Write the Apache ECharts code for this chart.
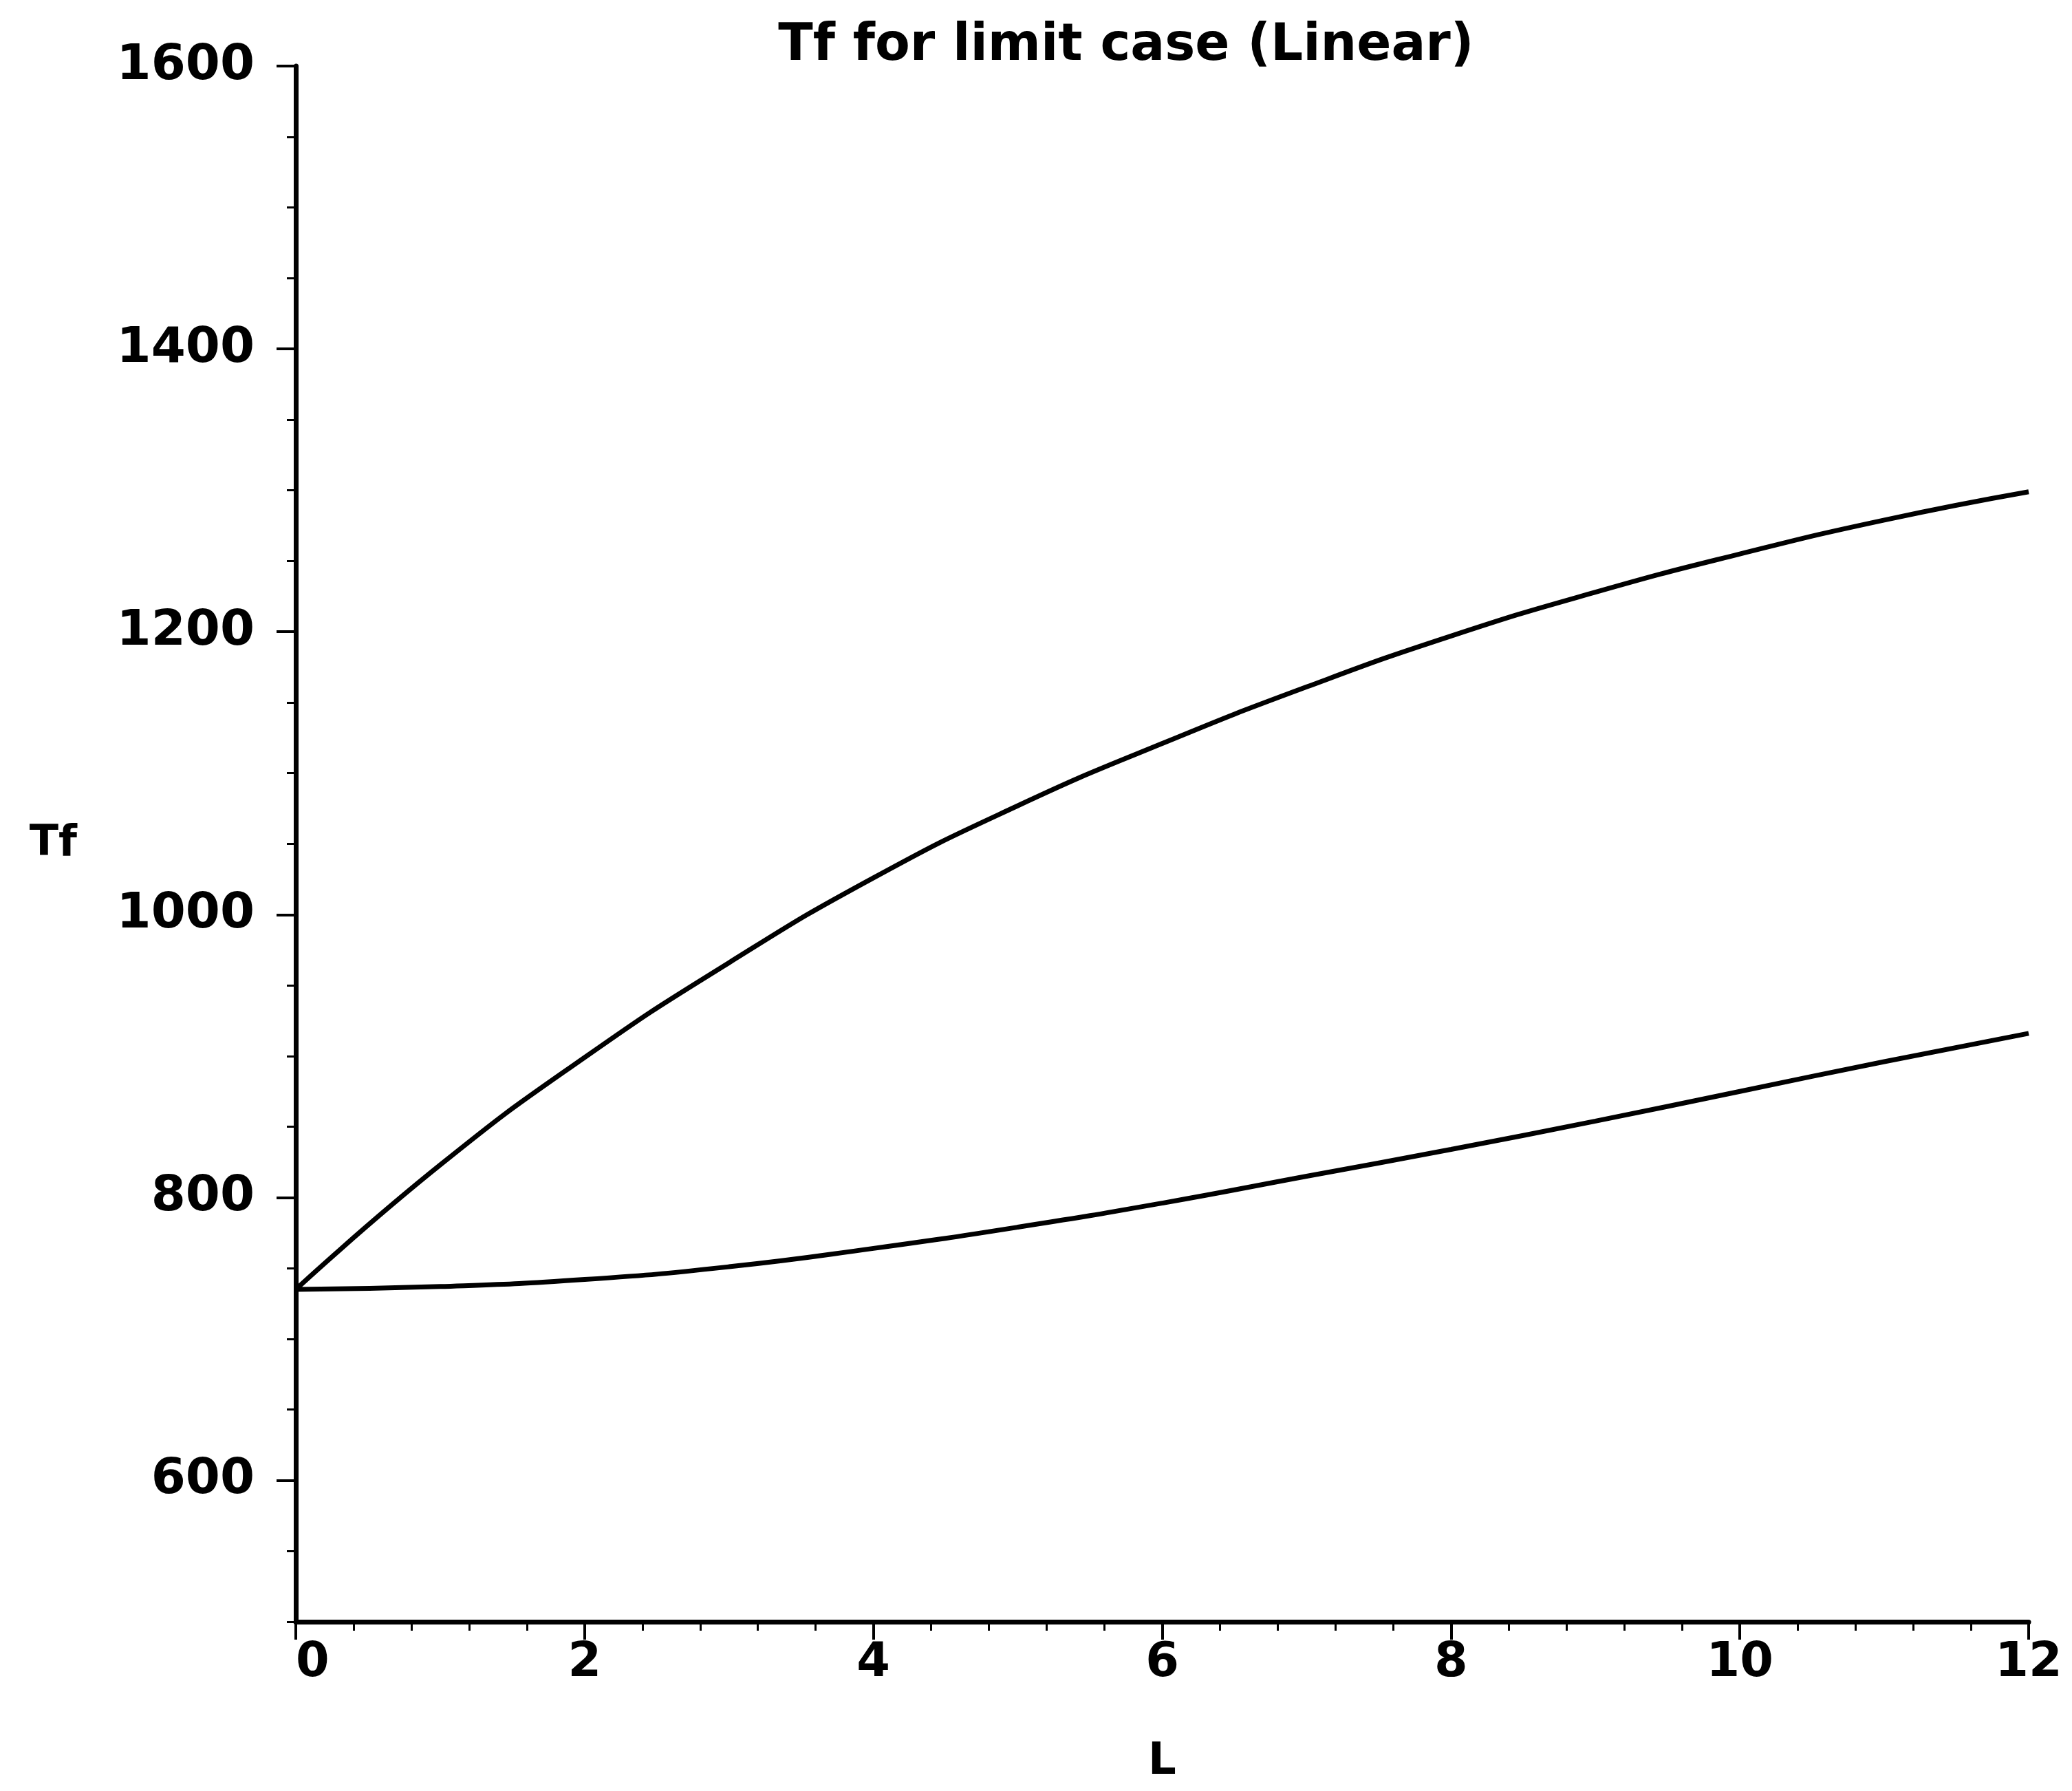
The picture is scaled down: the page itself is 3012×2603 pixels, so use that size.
<!DOCTYPE html>
<html>
<head>
<meta charset="utf-8">
<script src="https://cdn.jsdelivr.net/npm/echarts@6/dist/echarts.min.js"></script>
<style>
html,body{margin:0;padding:0;background:#fff;}
#chart{width:3012px;height:2603px;}
</style>
</head>
<body>
<div id="chart"></div>
<script>
const L_values = [0, 1, 2, 3, 4, 5, 6, 7, 8, 9, 10, 11, 12];
const upperTf = [735, 823, 899, 966, 1026, 1077, 1121, 1161, 1197, 1228, 1255, 1279, 1299];
const lowerTf = [735, 737, 742, 751, 764, 779, 796, 815, 834, 854, 875, 896, 916];
const yTickValues = [600, 800, 1000, 1200, 1400, 1600];

const font = 'DejaVu Sans';
const chart = echarts.init(document.getElementById('chart'), null, {renderer: 'canvas'});
const toPairs = (xs, ys) => xs.map((x, i) => [x, ys[i]]);
const lineStyle = {color: '#000', width: 7};

chart.setOption({
  backgroundColor: '#fff',
  animation: false,
  title: {
    text: 'Tf for limit case (Linear)',
    left: 1632, top: 26, textAlign: 'center',
    textStyle: {fontFamily: font, fontWeight: 'bold', fontSize: 74, color: '#000'}
  },
  grid: {left: 430, right: 63, top: 96, bottom: 246, containLabel: false},
  xAxis: {
    type: 'value', min: 0, max: 12, interval: 2,
    name: 'L', nameLocation: 'middle', nameGap: 172,
    nameTextStyle: {fontFamily: font, fontWeight: 'bold', fontSize: 64, color: '#000'},
    axisLine: {show: true, onZero: false, lineStyle: {color: '#000', width: 7}},
    axisTick: {show: true, inside: false, length: 26, lineStyle: {color: '#000', width: 4}},
    minorTick: {show: true, splitNumber: 5, length: 13, lineStyle: {color: '#000', width: 3}},
    axisLabel: {fontFamily: font, fontWeight: 'bold', fontSize: 70, color: '#000', margin: 26,
                alignMinLabel: 'left', formatter: v => String(v)},
    splitLine: {show: false}
  },
  yAxis: [{
    type: 'value', min: 500, max: 1600,
    name: 'Tf', nameLocation: 'middle', nameRotate: 0, nameGap: 318,
    nameTextStyle: {fontFamily: font, fontWeight: 'bold', fontSize: 62, color: '#000'},
    axisLine: {show: true, onZero: false, lineStyle: {color: '#000', width: 7}},
    axisTick: {show: true, inside: false, length: 28, customValues: yTickValues, lineStyle: {color: '#000', width: 4}},
    axisLabel: {fontFamily: font, fontWeight: 'bold', fontSize: 72, color: '#000', margin: 60,
                customValues: yTickValues, formatter: v => String(v)},
    splitLine: {show: false}
  }, {
    type: 'value', min: 500, max: 1600, interval: 50, position: 'left',
    axisLine: {show: false},
    axisTick: {show: true, inside: false, length: 13, lineStyle: {color: '#000', width: 3}},
    axisLabel: {show: false},
    splitLine: {show: false}
  }],
  series: [{
    type: 'line', name: 'upper', data: toPairs(L_values, upperTf),
    smooth: true, showSymbol: false, lineStyle: lineStyle
  }, {
    type: 'line', name: 'lower', data: toPairs(L_values, lowerTf),
    smooth: true, showSymbol: false, lineStyle: lineStyle
  }]
});
</script>
</body>
</html>
